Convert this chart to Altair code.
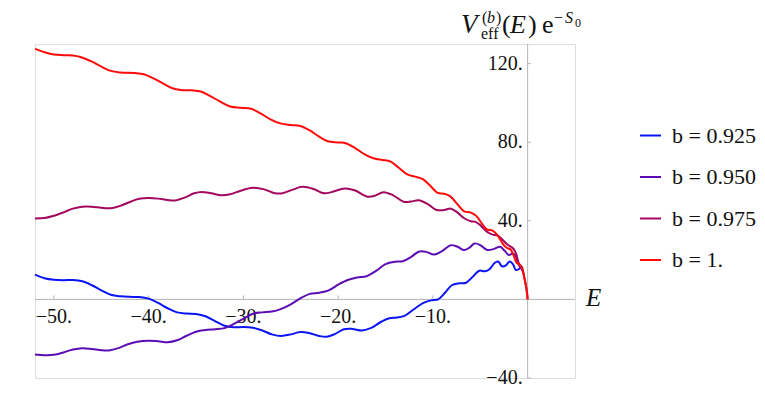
import altair as alt
import pandas as pd

# ---------------- data ----------------
series_names = ["b = 0.925", "b = 0.950", "b = 0.975", "b = 1."]
series_colors = ["#0a14f5", "#5c0cb4", "#a3075e", "#ff0a0a"]

E_blue = [-52, -51, -50, -49, -48, -47, -46, -45, -44, -43, -42, -41, -40, -39, -38, -37, -36, -35, -34, -33,
          -32, -31, -30, -29, -28, -27, -26, -25, -24, -23, -22, -21.2, -20.3, -19.4, -18.5, -17.5, -16.5,
          -15.5, -14.6, -13.8, -13, -12, -11, -10.2, -9.4, -8.7, -8, -7.2, -6.5, -5.8, -5.1, -4.5, -4,
          -3.5, -3.1, -2.7, -2.3, -1.9, -1.55, -1.25, -0.95, -0.7, -0.55]
V_blue = [12.6, 10.8, 10, 9.8, 9.9, 9.2, 7.2, 4.6, 2.4, 1.6, 1.3, 1.2, 0.4, -1.8, -4.5, -6.6, -7.2, -7.4, -8.6, -11,
          -13.4, -14.2, -14, -14.4, -15.8, -17.8, -18.6, -17.8, -16.6, -17.2, -18.6, -19, -17.5, -15.2, -15, -15.8,
          -14.5, -11.5, -9.6, -9.2, -8.4, -5, -1.8, -0.5, 0.2, 3.5, 7.2, 8.2, 8.5, 11.5, 14.6, 14.3, 15.5,
          18.5, 19.3, 16.8, 17.3, 19.3, 18, 15, 15.3, 16.2, 14.5]

E_purple = [-52, -51, -50, -49, -48, -47, -46, -45, -44.2, -43.2, -42.2, -41.2, -40, -39, -38, -37, -36, -35, -34,
            -33, -32, -31, -30, -29, -28, -27, -26, -25, -24, -23, -22, -21, -20, -19, -18, -17, -16, -15, -14,
            -13.2, -12.3, -11.5, -10.7, -9.9, -9, -8.1, -7.4, -6.7, -6.1, -5.6, -5, -4.3, -3.6, -2.9, -2.4,
            -2, -1.6, -1.3, -1, -0.7]
V_purple = [-28, -28.4, -28.2, -27, -25.5, -24.8, -25.2, -25.9, -26, -24.8, -22.8, -21.5, -21, -21.3, -21.8, -20.8,
            -18.5, -16.5, -15.6, -15.2, -14.6, -12.5, -9.8, -7.3, -6.6, -6.2, -4.8, -2.5, 0.5, 2.8, 3.4, 4.6, 7.5,
            9.9, 11.2, 11.8, 14.5, 18, 19.2, 19.4, 21.6, 24.3, 24.2, 22.8, 24.7, 27.6, 26.8, 25.1, 26.5, 28.5, 27.6,
            25.2, 25.6, 26.8, 24.6, 22.6, 23.2, 22.5, 18.5, 15.5]

E_maroon = [-52, -51, -50.2, -49, -48, -47, -46, -45, -44, -43, -42, -41, -40, -39, -38, -37.2, -36.2, -35.2, -34.4,
            -33.4, -32.3, -31.4, -30.3, -29, -27.8, -26.8, -26, -25, -23.8, -22.6, -21.5, -20.7, -19.3, -18.2, -17,
            -16.2, -15.2, -14.2, -13.1, -12.3, -11.5, -10.5, -9.6, -8.8, -8.1, -7.4, -6.7, -6, -5.5, -4.9, -4.3,
            -3.7, -3.2, -2.7, -2.1, -1.5, -1.2, -0.9, -0.6, -0.35, -0.15, 0]
V_maroon = [41.2, 41.4, 42.3, 44.3, 46.2, 47.2, 47.2, 46.6, 46.4, 47.6, 49.6, 51.2, 51.6, 51.3, 50.6, 50.4, 51.8, 54,
            54.7, 54, 53, 53.5, 55.3, 56.8, 56, 54.2, 53.9, 55.5, 57.3, 56.2, 54, 54.6, 56.5, 55.4, 52.4, 52.6,
            54.6, 53, 49.7, 49.8, 50.5, 48.4, 45.5, 45.5, 46.2, 44.2, 41.3, 39.8, 39.5, 37.3, 34.5, 33, 32.6,
            30.6, 27.8, 25.8, 23, 18, 16.5, 11, 6, 0]

E_red = [-52, -51, -50, -49, -48, -47.2, -46, -45, -44, -43, -41.5, -40.5, -39.5, -38.5, -37.5, -36.6, -35.5, -34.5,
         -33.5, -32.5, -31.4, -30.3, -29.2, -28.2, -27.2, -26.1, -25, -24, -23, -22, -21.1, -20, -19.2, -18.2,
         -17.2, -16.2, -15.3, -14.5, -13.6, -12.7, -11.9, -11.1, -10.3, -9.5, -8.8, -8.2, -7.4, -6.7, -6, -5.4,
         -4.8, -4.3, -3.7, -3.2, -2.6, -2.2, -1.8, -1.45, -1.15, -0.8, -0.5, -0.3, -0.1, 0]
V_red = [127.5, 125.8, 124.6, 124.3, 124.2, 123.4, 121, 118.5, 116.3, 115.5, 115.2, 114.6, 112.5, 110, 107.5, 106.6,
         106.4, 105.8, 103.5, 100.8, 98.2, 97.5, 97, 94.7, 91.8, 89.6, 88.8, 88.3, 86, 82.8, 80.5, 79.9, 79.5, 77,
         73.8, 71.7, 71, 70.3, 67, 63.6, 62.5, 61.3, 58, 54.2, 53.8, 52.6, 48.4, 44.8, 44.2, 42.4, 38.4, 35.7, 35,
         32.8, 28.2, 26.3, 25.4, 22, 18.6, 17.6, 14, 10, 5, 0]

x_ticks = [-50, -40, -30, -20, -10]
x_tick_labels = ["\u221250.", "\u221240.", "\u221230.", "\u221220.", "\u221210."]
y_ticks = [-40, 40, 80, 120]
y_tick_labels = ["\u221240.", "40.", "80.", "120."]

X_DOMAIN = [-52, 5]
Y_DOMAIN = [-40, 130]

# ---------------- tables ----------------
rows = []
for name, Es, Vs in zip(series_names, [E_blue, E_purple, E_maroon, E_red], [V_blue, V_purple, V_maroon, V_red]):
    for e, v in zip(Es, Vs):
        rows.append({"series": name, "E": e, "V": v})
curves = pd.DataFrame(rows)

xt = pd.DataFrame({"x": x_ticks, "label": x_tick_labels, "y0": 0, "y1": 2.0})
yt = pd.DataFrame({"y": y_ticks, "label": y_tick_labels, "x0": 0, "x1": 0.35})
one = pd.DataFrame({"a": [0]})

FONT = "Liberation Serif"
AXIS_GRAY = "#b4b4b4"
INK = "#111111"
W, H = 540, 334
OX, OY = 35, 43.7  # plot origin on the page (for title text pieces)

xs = alt.Scale(domain=X_DOMAIN, nice=False, zero=False)
ys = alt.Scale(domain=Y_DOMAIN, nice=False, zero=False)

x_axis_line = alt.Chart(one).mark_rule(color=AXIS_GRAY, strokeWidth=1).encode(
    x=alt.datum(X_DOMAIN[0], scale=xs, axis=None), x2=alt.datum(X_DOMAIN[1]),
    y=alt.datum(0, scale=ys, axis=None))
y_axis_line = alt.Chart(one).mark_rule(color=AXIS_GRAY, strokeWidth=1).encode(
    x=alt.datum(0, scale=xs, axis=None),
    y=alt.datum(Y_DOMAIN[0], scale=ys, axis=None), y2=alt.datum(Y_DOMAIN[1]))

x_tick_marks = alt.Chart(xt).mark_rule(color=AXIS_GRAY, strokeWidth=1).encode(
    x=alt.X("x:Q", scale=xs, axis=None), y=alt.Y("y0:Q", scale=ys, axis=None), y2="y1:Q")
y_tick_marks = alt.Chart(yt).mark_rule(color=AXIS_GRAY, strokeWidth=1).encode(
    y=alt.Y("y:Q", scale=ys, axis=None), x=alt.X("x0:Q", scale=xs, axis=None), x2="x1:Q")

x_labels = alt.Chart(xt).mark_text(font=FONT, fontSize=20, color=INK, baseline="alphabetic",
                                   align="center", dy=24).encode(
    x=alt.X("x:Q", scale=xs, axis=None), y=alt.Y("y0:Q", scale=ys, axis=None), text="label:N")
y_labels = alt.Chart(yt).mark_text(font=FONT, fontSize=20, color=INK, baseline="middle",
                                   align="right", dx=-5, dy=0).encode(
    x=alt.X("x0:Q", scale=xs, axis=None), y=alt.Y("y:Q", scale=ys, axis=None), text="label:N")

lines = alt.Chart(curves).mark_line(strokeWidth=2, interpolate="catmull-rom").encode(
    x=alt.X("E:Q", scale=xs, axis=None),
    y=alt.Y("V:Q", scale=ys, axis=None),
    color=alt.Color("series:N", sort=series_names,
                    scale=alt.Scale(domain=series_names, range=series_colors),
                    legend=alt.Legend(title=None, orient="none", legendX=604, legendY=80,
                                      symbolType="stroke", symbolSize=440, symbolStrokeWidth=2,
                                      labelFont=FONT, labelFontSize=22, labelColor=INK,
                                      labelOffset=10, rowPadding=18.5, labelLimit=200)),
    detail="series:N",
)


def piece(txt, px, py, size, italic=False, align="left"):
    kw = dict(text=txt, font=FONT, fontSize=size, color=INK, align=align, baseline="alphabetic")
    if italic:
        kw["fontStyle"] = "italic"
    return alt.Chart(one).mark_text(**kw).encode(x=alt.value(px - OX), y=alt.value(py - OY))


title_pieces = [
    piece("V", 461, 33, 27, italic=True),
    piece("(", 482, 23, 16),
    piece("b", 487, 23, 16, italic=True),
    piece(")", 496, 23, 16),
    piece("eff", 481, 39, 16),
    piece("(", 502, 33, 26),
    piece("E", 510, 33, 26, italic=True),
    piece(")", 528, 33, 26),
    piece("e", 542, 33, 26),
    piece("\u2212", 554, 23, 16),
    piece("S", 565, 23, 16, italic=True),
    piece("0", 575, 27, 12),
    piece("E", 586, 306, 25, italic=True),
]

chart = alt.layer(
    x_axis_line, y_axis_line, x_tick_marks, y_tick_marks, x_labels, y_labels, lines, *title_pieces
).properties(
    width=W, height=H,
    padding={"left": 27, "top": 36, "right": 182, "bottom": 14},
    autosize=alt.AutoSizeParams(type="none"),
).configure_view(stroke=None).configure(background="white", font=FONT).configure_legend(
    labelFont=FONT, labelFontSize=22, labelColor=INK
).configure_text(font=FONT)

chart.save("out.html", embed_options={"renderer": "svg", "actions": False})
